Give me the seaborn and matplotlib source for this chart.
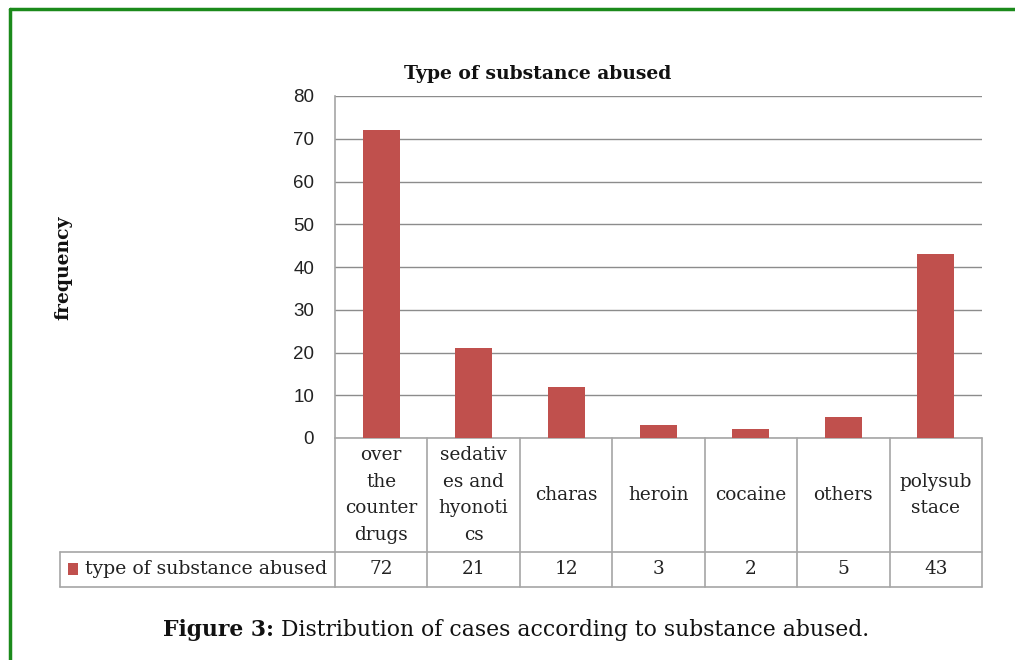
import matplotlib
matplotlib.use("Agg")
import matplotlib.pyplot as plt
import matplotlib.transforms as mtransforms
from matplotlib.lines import Line2D
from matplotlib.patches import Rectangle
import seaborn as sns
import pandas as pd

categories = ["over\nthe\ncounter\ndrugs", "sedativ\nes and\nhyonoti\ncs", "charas",
              "heroin", "cocaine", "others", "polysub\nstace"]
values = [72, 21, 12, 3, 2, 5, 43]
series_name = "type of substance abused"
title = "Type of substance abused"
ylabel = "frequency"
yticks = [0, 10, 20, 30, 40, 50, 60, 70, 80]
caption_bold = "Figure 3:"
caption_text = "Distribution of cases according to substance abused."

BAR = "#c0504d"
GRID = "#8c8c8c"
TBL = "#a6a6a6"
GREEN = "#1b8a1b"

sns.set_theme(style="white")
plt.rcParams['font.family'] = ['DejaVu Sans']

W, H = 1015, 660
fig = plt.figure(figsize=(W / 100, H / 100), dpi=100)

def fx(px):
    return px / W

def fy(py):
    return 1 - py / H

ax_l, ax_r, ax_t, ax_b = 335, 982, 96, 438
ax = fig.add_axes([fx(ax_l), fy(ax_b), fx(ax_r - ax_l), (ax_b - ax_t) / H])

df = pd.DataFrame({"cat": categories, "val": values})
sns.barplot(data=df, x="cat", y="val", color=BAR, width=0.4, saturation=1,
            edgecolor="none", linewidth=0, ax=ax, zorder=3)

ax.set_ylim(0, 80)
ax.set_xlim(-0.5, len(categories) - 0.5)
ax.set_yticks(yticks)
ax.set_yticklabels([str(t) for t in yticks], fontsize=13.5, color="#222222",
                   family="Liberation Sans")
ax.tick_params(axis="y", length=0, pad=15)
ax.set_xticks([])
ax.set_xlabel("")
ax.set_ylabel("")
ax.yaxis.grid(True, color=GRID, linewidth=1.0, zorder=0)
ax.set_axisbelow(True)
for s in ["top", "right", "bottom"]:
    ax.spines[s].set_visible(False)
ax.spines["left"].set_color(TBL)
ax.spines["left"].set_linewidth(1.2)

# title and y label
fig.text(fx(538), fy(74), title, ha="center", va="center", fontsize=13.5,
         fontweight="bold", family="DejaVu Serif", color="#111111")
fig.text(fx(63), fy(268), ylabel, ha="center", va="center", rotation=90,
         fontsize=13.5, fontweight="bold", family="DejaVu Serif", color="#111111")

# data table under axis
tr = mtransforms.blended_transform_factory(ax.transData, ax.transAxes)
axh = ax_b - ax_t
row1 = -(552 - ax_b) / axh
row2 = -(587 - ax_b) / axh
n = len(categories)
kw = dict(color=TBL, linewidth=1.2, clip_on=False, transform=tr)
for k in range(n + 1):
    ax.plot([k - 0.5, k - 0.5], [0, row2], **kw)
ax.plot([-0.5, n - 0.5], [0, 0], **kw)
ax.plot([-0.5, n - 0.5], [row1, row1], **kw)
ax.plot([-0.5, n - 0.5], [row2, row2], **kw)
# legend cell
fig.add_artist(Line2D([fx(60), fx(ax_l)], [fy(552), fy(552)], color=TBL, linewidth=1.2))
fig.add_artist(Line2D([fx(60), fx(ax_l)], [fy(587), fy(587)], color=TBL, linewidth=1.2))
fig.add_artist(Line2D([fx(60), fx(60)], [fy(552), fy(587)], color=TBL, linewidth=1.2))
fig.add_artist(Rectangle((fx(68), fy(575)), fx(10), (575 - 563) / H,
                         facecolor=BAR, edgecolor="none"))
fig.text(fx(85), fy(569), series_name, ha="left", va="center", fontsize=13.6,
         family="DejaVu Serif", color="#222222")

for i, (c, v) in enumerate(zip(categories, values)):
    ax.text(i, row1 / 2, c, ha="center", va="center", fontsize=13.3,
            family="DejaVu Serif", color="#222222", linespacing=1.6,
            transform=tr, clip_on=False)
    ax.text(i, (row1 + row2) / 2, str(v), ha="center", va="center", fontsize=13.3,
            family="DejaVu Serif", color="#222222", transform=tr, clip_on=False)

# caption
fig.text(fx(274), fy(630), caption_bold, ha="right", va="center", fontsize=15.75,
         fontweight="bold", family="DejaVu Serif", color="#111111")
fig.text(fx(281), fy(630), caption_text, ha="left", va="center", fontsize=15.75,
         family="DejaVu Serif", color="#111111")

# green frame
fig.add_artist(Line2D([fx(10), fx(10)], [fy(9), 0], color=GREEN, linewidth=2.5))
fig.add_artist(Line2D([fx(10), 1], [fy(9), fy(9)], color=GREEN, linewidth=2.5))

fig.savefig("out.png", dpi=100)
